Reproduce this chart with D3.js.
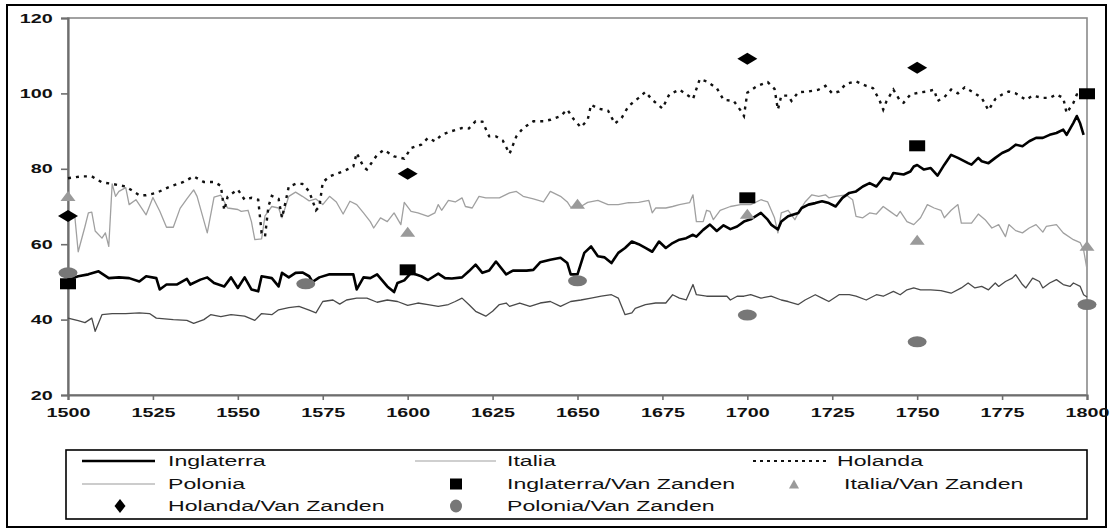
<!DOCTYPE html>
<html><head><meta charset="utf-8">
<script src="https://cdn.jsdelivr.net/npm/d3@7"></script>
<style>body{margin:0;background:#fff}svg{display:block}</style>
</head><body>
<svg id="c" width="1112" height="532"></svg>
<script>
// ---- data ----
const yTicks = [20, 40, 60, 80, 100, 120];
const xTicks = [1500,1525,1550,1575,1600,1625,1650,1675,1700,1725,1750,1775,1800];

const inglaterra = [[1500,50.6],[1503,51.5],[1506,52],[1509,52.8],[1512,51],[1515,51.2],[1518,51],[1521,50.1],[1523,51.5],[1526,51],[1527,48],[1529,49.3],[1532,49.3],[1535,50.8],[1536,49.3],[1539,50.6],[1541,51.2],[1543,49.7],[1546,48.8],[1548,51.2],[1550,48.4],[1552,51.2],[1554,48],[1556,47.5],[1557,51.5],[1560,51],[1562,48.8],[1563,52.4],[1565,51.2],[1567,52.4],[1569,52.5],[1571,51.5],[1572,50],[1574,51.2],[1577,52],[1581,52],[1584,52],[1585,48],[1587,51.2],[1589,51],[1591,52],[1594,48.8],[1596,47.3],[1597,49.7],[1599,50.4],[1601,52.4],[1604,51.5],[1606,50.5],[1609,52.2],[1611,51],[1613,50.9],[1616,51.2],[1618,52.8],[1620,54.6],[1622,52.4],[1624,53],[1626,55.4],[1629,52],[1631,53],[1635,53],[1637,53.2],[1639,55.2],[1642,55.9],[1645,56.4],[1647,55],[1648,52],[1650,52],[1652,57.7],[1654,59.4],[1656,56.8],[1658,56.5],[1660,55],[1662,57.7],[1664,59],[1666,60.7],[1668,60],[1670,59],[1672,58],[1674,60.7],[1676,59],[1678,60.3],[1680,61.2],[1682,61.6],[1684,62.5],[1685,62],[1687,63.8],[1689,65.2],[1691,63.5],[1693,65],[1695,64],[1697,64.7],[1699,66],[1701,66.6],[1704,68.3],[1706,66.5],[1707,65.2],[1709,63.9],[1710,66],[1712,67.4],[1715,68.3],[1716,69.6],[1718,70.5],[1720,70.9],[1722,71.4],[1724,70.9],[1726,70],[1728,72.3],[1730,73.6],[1732,74],[1734,75.3],[1736,76.2],[1738,75.3],[1740,77.6],[1742,77.2],[1743,78.9],[1746,78.5],[1748,79.3],[1749,80.6],[1750,81],[1752,79.8],[1754,80.2],[1756,78.2],[1758,81.1],[1760,83.7],[1762,82.9],[1765,81.5],[1766,81.1],[1768,82.9],[1769,82],[1771,81.5],[1773,82.9],[1775,84.2],[1777,85],[1779,86.4],[1781,86],[1783,87.3],[1785,88.2],[1787,88.2],[1789,89],[1791,89.5],[1793,90.4],[1794,89],[1796,92.2],[1797,94],[1798,92],[1799,89]];

const italia = [[1500,67],[1502,67.4],[1503,58],[1505,64.7],[1506,68.3],[1507,68.5],[1508,63.5],[1510,61.6],[1511,63],[1512,59.4],[1513,76],[1514,72.7],[1515,74],[1517,75],[1518,70.5],[1520,71.8],[1523,67.8],[1525,72.4],[1527,68.8],[1529,64.5],[1531,64.5],[1533,69.5],[1535,72],[1537,74.4],[1538,72.7],[1541,63],[1543,72.5],[1545,73],[1547,69.6],[1550,69.2],[1551,68.7],[1553,69],[1554,66],[1555,61.2],[1557,61.4],[1558,67.5],[1560,70],[1562,69.6],[1563,67],[1565,72.7],[1567,73.8],[1569,72.7],[1571,71.5],[1573,72],[1575,70.5],[1577,72.7],[1579,71.2],[1581,68],[1583,71.4],[1585,70.5],[1587,68.3],[1589,66],[1590,64.3],[1592,67],[1594,66],[1596,68.3],[1598,65.2],[1599,71.1],[1601,68.7],[1603,68.3],[1606,67.4],[1608,68.3],[1609,70.5],[1610,69],[1612,71.6],[1614,71.2],[1616,72.3],[1617,70],[1619,69.6],[1621,72.7],[1623,72.3],[1627,72.3],[1630,73.6],[1632,74],[1634,72.7],[1637,72],[1640,71.2],[1642,74],[1645,72.7],[1647,71.2],[1648,69.8],[1651,70],[1653,71.1],[1656,71.6],[1659,70.5],[1662,70.5],[1665,71],[1668,71.1],[1671,71.6],[1672,68.3],[1673,69.6],[1676,69.6],[1678,70],[1680,70.5],[1683,71],[1684,73.1],[1685,66],[1687,66],[1688,69],[1689,68.7],[1690,66.5],[1692,69],[1695,70],[1698,70.5],[1701,70.5],[1704,71.8],[1706,71.2],[1708,67],[1709,63],[1710,68.3],[1712,69],[1714,66.5],[1715,68.3],[1717,71.2],[1719,73.1],[1721,72.7],[1723,73.1],[1724,72.3],[1726,72.7],[1729,73.1],[1731,71.8],[1732,67.4],[1734,67],[1736,68.3],[1738,68],[1740,70],[1742,68.7],[1744,67.4],[1745,68.7],[1747,66],[1749,65.2],[1751,67],[1753,70.5],[1755,69.6],[1757,69],[1758,67],[1760,69],[1762,70.5],[1763,65.6],[1766,65.6],[1768,68],[1770,66.5],[1772,64.3],[1774,65.2],[1776,62],[1777,65.2],[1779,63.6],[1781,63],[1783,64.3],[1785,65.2],[1787,63.2],[1788,64.7],[1791,65.2],[1793,63],[1796,61.2],[1798,60.4],[1799,58.5],[1800,53.3]];

const holanda = [[1500,77.5],[1504,78],[1507,78],[1510,76.4],[1513,76],[1517,75.3],[1521,73],[1523,73],[1526,73.6],[1530,75.3],[1534,76.5],[1537,78],[1540,76.5],[1543,76.5],[1545,75.5],[1546,69],[1547,72.6],[1550,74.5],[1552,71.8],[1554,72.3],[1556,71.8],[1557,63],[1558,62],[1559,70],[1560,72.8],[1562,72],[1563,67],[1564,71],[1565,75.3],[1567,76],[1569,76],[1571,74],[1573,69],[1574,70],[1575,76.4],[1577,78],[1581,79.3],[1584,80.6],[1585,84.2],[1587,80.5],[1588,79.8],[1591,83.7],[1593,85],[1596,83.3],[1599,82.7],[1601,85.5],[1604,86.4],[1606,88.2],[1608,87.3],[1610,89],[1613,90],[1616,90.8],[1618,90.7],[1620,92.6],[1622,92.5],[1624,88.6],[1626,88.6],[1628,87.5],[1630,84],[1632,88.6],[1634,90.8],[1637,92.6],[1640,92.6],[1642,93],[1645,94],[1647,95.7],[1649,93],[1651,91],[1653,93],[1654,97],[1656,96],[1659,95.4],[1661,92],[1663,93.5],[1665,96.6],[1668,98.8],[1670,100.4],[1672,98.3],[1675,96],[1677,99.7],[1680,101],[1684,98.5],[1686,103.8],[1688,103.2],[1691,101.4],[1693,98.3],[1696,98],[1698,95.5],[1699,94],[1700,100.2],[1703,102],[1706,103],[1708,101.2],[1709,95.7],[1710,99.4],[1712,99.4],[1713,98],[1715,100.3],[1718,100.5],[1721,101],[1723,102],[1725,100],[1727,100.5],[1729,102.5],[1732,103.2],[1735,102],[1737,101.4],[1739,98],[1740,95.7],[1741,98],[1743,101],[1745,98],[1746,97.5],[1748,99.7],[1751,100.3],[1753,100.5],[1755,101],[1756,98],[1758,99],[1760,101],[1762,100],[1764,101.6],[1767,100],[1769,98.8],[1771,95.5],[1773,98.5],[1775,99.7],[1777,100.5],[1779,100],[1782,98.3],[1784,99.4],[1787,98.8],[1789,98.8],[1791,99.7],[1793,98.8],[1794,94.8],[1796,97.5],[1797,99.7],[1799,100.3]];

const polonia = [[1500,40.4],[1503,39.7],[1505,39.2],[1507,40.4],[1508,36.9],[1510,41.3],[1513,41.6],[1517,41.6],[1521,41.8],[1524,41.6],[1526,40.4],[1531,40],[1535,39.8],[1537,39],[1540,40],[1542,41.3],[1545,40.8],[1548,41.3],[1552,40.9],[1555,39.8],[1557,41.6],[1560,41.3],[1562,42.6],[1565,43.2],[1568,43.5],[1571,42.5],[1573,41.8],[1575,44.8],[1578,45.2],[1580,44.1],[1582,45.2],[1585,45.7],[1588,45.7],[1591,44.6],[1594,45.2],[1597,44.8],[1600,43.8],[1603,44.4],[1606,44],[1609,43.5],[1612,44],[1614,44.8],[1616,45.7],[1618,44],[1620,42.2],[1623,40.9],[1625,42.2],[1627,44],[1629,44.4],[1630,43.5],[1633,44.4],[1636,43.5],[1639,44.4],[1642,44.8],[1645,43.5],[1648,44.8],[1651,45.2],[1654,45.7],[1657,46.2],[1660,46.6],[1662,45.7],[1664,41.3],[1666,41.8],[1667,43],[1670,44],[1673,44.4],[1676,44.4],[1678,46.6],[1680,45.7],[1682,45.2],[1684,49.3],[1685,46.6],[1688,46.2],[1691,46.2],[1694,46.2],[1695,45.2],[1697,46.2],[1699,46.2],[1701,46.6],[1704,45.7],[1707,46.2],[1710,45.2],[1712,44.8],[1715,44],[1717,45.2],[1720,46.6],[1722,45.7],[1724,44.8],[1727,46.6],[1730,46.6],[1732,46.2],[1735,45.2],[1738,46.6],[1740,46.2],[1743,47.5],[1745,46.6],[1747,47.9],[1749,48.4],[1751,47.9],[1754,47.9],[1757,47.7],[1760,47],[1763,48.4],[1765,49.7],[1767,48.4],[1769,48.8],[1771,47.9],[1773,49.7],[1774,48.8],[1776,50.1],[1778,51],[1779,51.9],[1781,49.3],[1782,48.4],[1784,51],[1786,50.1],[1787,48.4],[1789,49.7],[1791,50.6],[1793,49.3],[1795,48.8],[1796,49.7],[1798,48.8],[1799,46.6],[1800,46]];

const inglaterraVZ = [[1500,49.5],[1600,53.2],[1700,72.3],[1750,86.1],[1800,99.9]];
const italiaVZ     = [[1500,72.8],[1600,63.3],[1650,70.7],[1700,68.1],[1750,61.2],[1800,59.6]];
const holandaVZ    = [[1500,67.5],[1600,78.7],[1700,109.2],[1750,106.8]];
const poloniaVZ    = [[1500,52.4],[1570,49.5],[1650,50.3],[1700,41.2],[1750,34.1],[1800,44]];

const legendLabels = ["Inglaterra","Italia","Holanda","Polonia","Inglaterra/Van Zanden","Italia/Van Zanden","Holanda/Van Zanden","Polonia/Van Zanden"];

// ---- drawing ----
const SX = 1.52; // horizontal stretch of the original picture's text
const svg = d3.select("#c");
const L = 68, R = 1087, T = 18, B = 395;
const x = d3.scaleLinear().domain([1500,1800]).range([L,R]);
const y = d3.scaleLinear().domain([20,120]).range([B,T]);

const C = {ing:"#000", ita:"#a0a0a0", hol:"#111", pol:"#4a4a4a", tri:"#9a9a9a", circ:"#777"};

// outer frame
svg.append("rect").attr("x",7).attr("y",5).attr("width",1099).attr("height",522)
  .attr("fill","none").attr("stroke","#000").attr("stroke-width",2);

// plot frame
svg.append("rect").attr("x",L).attr("y",T).attr("width",R-L).attr("height",B-T)
  .attr("fill","none").attr("stroke","#8a8a8a").attr("stroke-width",1.6);

const font = "'Liberation Sans', Arial, sans-serif";

// axes
const yAx = svg.append("g").attr("transform",`translate(${L},0)`)
  .call(d3.axisLeft(y).tickValues(yTicks).tickSize(7).tickPadding(0).tickFormat(d3.format("d")));
const xAx = svg.append("g").attr("transform",`translate(0,${B})`)
  .call(d3.axisBottom(x).tickValues(xTicks).tickSize(5).tickPadding(0).tickFormat(d3.format("d")));
[yAx,xAx].forEach(g=>{
  g.select(".domain").attr("stroke","#6e6e6e").attr("stroke-width",2.2);
  g.selectAll(".tick line").attr("stroke","#6e6e6e").attr("stroke-width",1.6);
  g.selectAll("text").attr("font-family",font).attr("font-weight","bold")
    .attr("font-size",13).attr("fill","#111");
});
yAx.selectAll(".tick text").attr("x",-10).attr("transform",`scale(${SX},1)`);
xAx.selectAll(".tick text").attr("y",13).attr("transform",`scale(${SX},1)`);

// lines
const line = d3.line().x(d=>x(d[0])).y(d=>y(d[1]));
const plot = svg.append("g");
plot.append("path").datum(polonia).attr("d",line).attr("fill","none")
  .attr("stroke",C.pol).attr("stroke-width",1.3).attr("stroke-linejoin","round");
plot.append("path").datum(italia).attr("d",line).attr("fill","none")
  .attr("stroke",C.ita).attr("stroke-width",1.3).attr("stroke-linejoin","round");
plot.append("path").datum(inglaterra).attr("d",line).attr("fill","none")
  .attr("stroke",C.ing).attr("stroke-width",2.6).attr("stroke-linejoin","round");
plot.append("path").datum(holanda).attr("d",line).attr("fill","none")
  .attr("stroke",C.hol).attr("stroke-width",2.4).attr("stroke-dasharray","3,5");

// marker shapes (stretched like the original)
function square(g,cx,cy,w,h,fill){ g.append("rect").attr("x",cx-w/2).attr("y",cy-h/2).attr("width",w).attr("height",h).attr("fill",fill); }
function diamond(g,cx,cy,w,h,fill){ g.append("path").attr("d",`M${cx-w/2},${cy}L${cx},${cy-h/2}L${cx+w/2},${cy}L${cx},${cy+h/2}Z`).attr("fill",fill); }
function tri(g,cx,cy,w,h,fill){ g.append("path").attr("d",`M${cx-w/2},${cy+h/2}L${cx},${cy-h/2}L${cx+w/2},${cy+h/2}Z`).attr("fill",fill); }
function ell(g,cx,cy,w,h,fill){ g.append("ellipse").attr("cx",cx).attr("cy",cy).attr("rx",w/2).attr("ry",h/2).attr("fill",fill); }

const mk = svg.append("g");
poloniaVZ.forEach(d=>ell(mk,x(d[0]),y(d[1]),19,11,C.circ));
italiaVZ.forEach(d=>tri(mk,x(d[0]),y(d[1]),15,10,C.tri));
holandaVZ.forEach(d=>diamond(mk,x(d[0]),y(d[1]),20,12,"#000"));
inglaterraVZ.forEach(d=>square(mk,x(d[0]),y(d[1]),16,11,"#000"));

// legend
const lg = svg.append("g");
lg.append("rect").attr("x",66).attr("y",450).attr("width",1021).attr("height",69)
  .attr("fill","none").attr("stroke","#000").attr("stroke-width",1.6);
const rows = [461,484,506];
function ltext(tx,ty,s){
  lg.append("text").attr("transform",`translate(${tx},${ty}) scale(${SX},1)`)
    .attr("dy","0.36em").attr("font-family",font).attr("font-size",15.2).attr("fill","#111").text(s);
}
function lline(x1,x2,ty,col,w,dash){
  const p = lg.append("line").attr("x1",x1).attr("x2",x2).attr("y1",ty).attr("y2",ty)
    .attr("stroke",col).attr("stroke-width",w);
  if(dash) p.attr("stroke-dasharray",dash);
}
lline(82,155,rows[0],C.ing,2.4); ltext(168,rows[0],legendLabels[0]);
lline(415,496,rows[0],C.ita,1.2); ltext(507,rows[0],legendLabels[1]);
lline(753,826,rows[0],C.hol,2,"3,4"); ltext(837,rows[0],legendLabels[2]);
lline(82,155,rows[1],"#9a9a9a",1.2); ltext(168,rows[1],legendLabels[3]);
square(lg,456,rows[1],12,11,"#000"); ltext(507,rows[1],legendLabels[4]);
tri(lg,794,rows[1],10,9,C.tri); ltext(844,rows[1],legendLabels[5]);
diamond(lg,120,rows[2],11,14,"#000"); ltext(168,rows[2],legendLabels[6]);
ell(lg,456,rows[2],12,13,C.circ); ltext(507,rows[2],legendLabels[7]);
</script>
</body></html>
